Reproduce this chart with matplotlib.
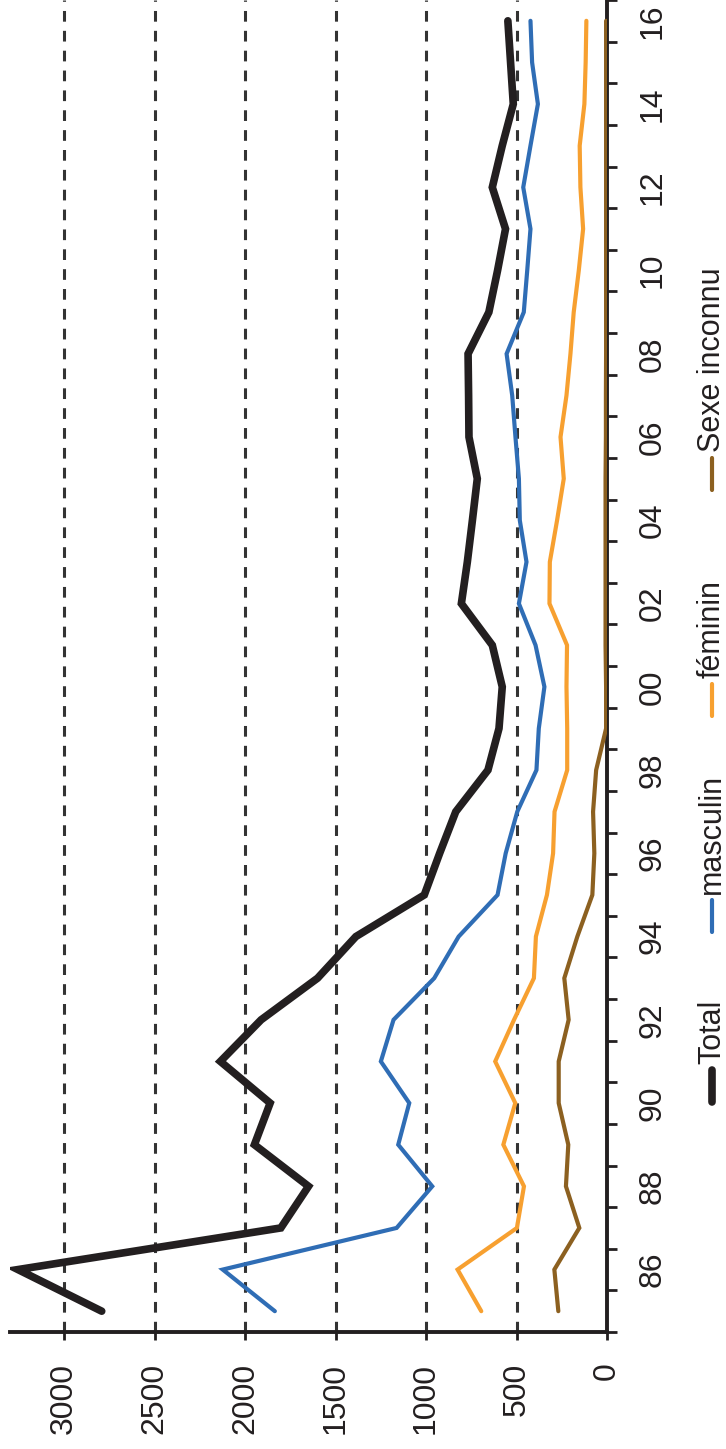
import matplotlib.pyplot as plt
import numpy as np
from matplotlib.lines import Line2D

plt.rcParams["font.family"] = ["Liberation Sans", "DejaVu Sans"]

years = list(range(1985, 2017))
total = [2793, 3256, 1803, 1650, 1949, 1862, 2137, 1912, 1600, 1388, 1010, 925,
         836, 658, 597, 579, 634, 805, 772, 744, 717, 763, 765, 768, 653, 605,
         561, 634, 579, 518, 533, 548]
masculin = [1836, 2124, 1163, 966, 1154, 1093, 1250, 1180, 955, 820, 605, 560,
            496, 390, 377, 346, 395, 487, 445, 482, 487, 506, 524, 555, 460, 441,
            423, 463, 423, 382, 414, 423]
feminin = [695, 826, 498, 459, 573, 507, 618, 514, 404, 393, 332, 298, 290, 220,
           220, 224, 221, 318, 316, 276, 239, 257, 224, 202, 184, 156, 132, 147,
           151, 125, 118, 114]
inconnu = [269, 291, 153, 227, 214, 267, 267, 212, 236, 164, 81, 70, 77, 60, 5,
           5, 8, 8, 8, 8, 8, 6, 6, 5, 5, 5, 5, 5, 5, 5, 5, 5]

value_ticks = [0, 500, 1000, 1500, 2000, 2500, 3000]
year_labels = [f"{y % 100:02d}" for y in range(1986, 2017, 2)]

series = [
    ("Sexe inconnu", inconnu, "#8c6020", 3.0),
    ("féminin", feminin, "#f7a030", 3.0),
    ("masculin", masculin, "#2f6db5", 3.0),
    ("Total", total, "#231f20", 5.5),
]

ink = "#231f20"
W, H = 726, 1449

fig = plt.figure(figsize=(W / 100, H / 100), dpi=100)
ax = fig.add_axes([10 / W, (H - 1332) / H, 597 / W, 1332 / H])

# chart is drawn turned a quarter turn: values run leftwards, years upwards
for name, vals, color, lw in series:
    ax.plot(vals, years, color=color, lw=lw, zorder=3,
            solid_capstyle="round", solid_joinstyle="miter")

ax.set_xlim(3300, 0)
ax.set_ylim(1984.5, 2016.5)

for side in ["top", "left"]:
    ax.spines[side].set_visible(False)
for side in ["bottom", "right"]:
    ax.spines[side].set_linewidth(2.8)
    ax.spines[side].set_color(ink)

ax.set_xticks(value_ticks)
ax.set_xticklabels([str(v) for v in value_ticks], rotation=90, fontsize=23,
                   color=ink)
ax.tick_params(axis="x", direction="out", length=6, width=2, color=ink, pad=16)

ax.yaxis.tick_right()
ax.set_yticks(np.arange(1984.5, 2017, 1))
ax.set_yticklabels([])
ax.set_yticks(range(1986, 2017, 2), minor=True)
ax.set_yticklabels(year_labels, minor=True, rotation=90, fontsize=23,
                   color=ink, va="center")
ax.tick_params(axis="y", which="major", direction="out", length=7, width=2,
               color=ink)
ax.tick_params(axis="y", which="minor", length=0, pad=22)

ax.set_axisbelow(True)
ax.grid(axis="x", linestyle=(0, (3.5, 3)), lw=2.2, color="#333333")
ax.grid(axis="y", visible=False)

# legend, turned like the rest
legend_pos = {"Total": 1102, "masculin": 932, "féminin": 716, "Sexe inconnu": 490}
hx = 712 / W
for name, vals, color, lw in series:
    y0 = legend_pos[name]
    fig.add_artist(Line2D([hx, hx], [(H - y0) / H, (H - y0 + 32) / H],
                          color=color, lw=lw, solid_capstyle="round"))
    fig.text(hx, (H - y0 + 38) / H, name, rotation=90, fontsize=22,
             color=ink, ha="center", va="bottom")

fig.savefig("out.png", dpi=100)
